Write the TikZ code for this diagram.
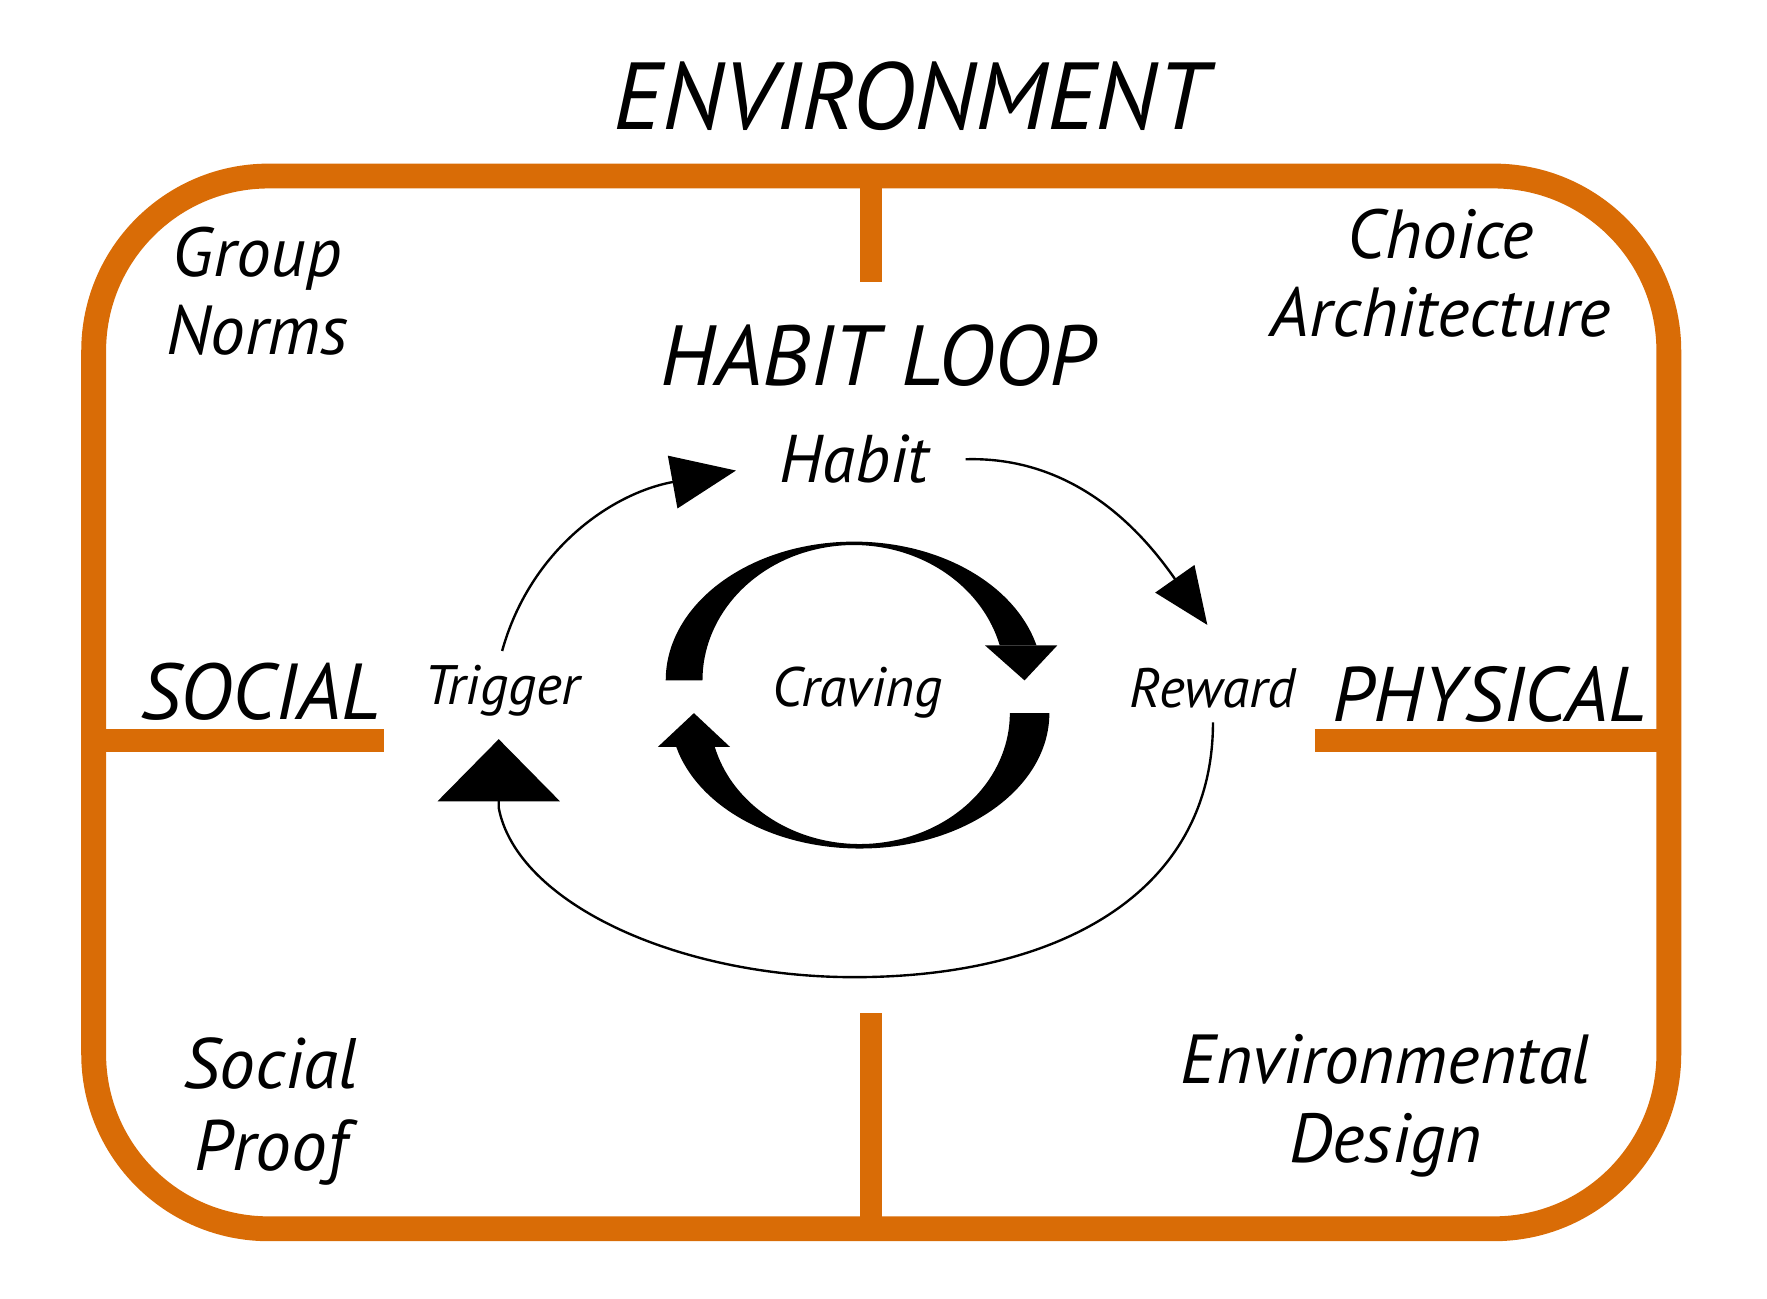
\documentclass[tikz,border=0pt]{standalone}
\usepackage{fontspec}
\setmainfont{PT Sans}
\usepackage{xcolor}
\usetikzlibrary{arrows.meta}
\definecolor{envorange}{RGB}{217,108,6}

\begin{document}
\begin{tikzpicture}[x=0.01cm, y=-0.01cm,
    frame/.style={draw=envorange, line width=0.22cm},
    divider/.style={draw=envorange, line width=0.2cm},
    heading/.style={font=\itshape\fontsize{24}{26}\selectfont},
    sidelabel/.style={font=\itshape\fontsize{20}{24}\selectfont},
    cornerlabel/.style={font=\itshape\fontsize{17.5}{19.5}\selectfont, align=center},
    looplabel/.style={font=\itshape\fontsize{14}{16}\selectfont},
    link/.style={draw, line width=0.6pt}]
    \useasboundingbox (0,0) rectangle (1566,1151);

    % frame of the environment
    \draw[frame, rounded corners=1.55cm] (83,156) rectangle (1479,1089);
    \draw[divider] (772,156) -- (772,250);
    \draw[divider] (772,898) -- (772,1089);
    \draw[divider] (83,656) -- (340,656);
    \draw[divider] (1165,656) -- (1479,656);

    \node[heading] (env) at (807,85) {ENVIRONMENT};
    \node[heading, font=\itshape\fontsize{21.5}{24}\selectfont] (loop) at (778,315) {HABIT LOOP};
    \node[cornerlabel] (norms) at (228,258) {Group\\Norms};
    \node[cornerlabel] (choice) at (1277,242) {Choice\\Architecture};
    \node[cornerlabel, font=\itshape\fontsize{18}{20.5}\selectfont] (proof) at (240,985) {Social\\Proof};
    \node[cornerlabel, font=\itshape\fontsize{17.5}{20}\selectfont] (design) at (1228,980) {Environmental\\Design};
    \node[sidelabel] (social) at (231,613) {SOCIAL};
    \node[sidelabel, font=\itshape\fontsize{19.5}{24}\selectfont] (physical) at (1320,615) {PHYSICAL};

    \node[looplabel, font=\itshape\fontsize{17}{20}\selectfont] (habit) at (757,407) {Habit};
    \node[looplabel] (trigger) at (445,612) {Trigger};
    \node[looplabel] (craving) at (760,614) {Craving};
    \node[looplabel] (reward) at (1075,610) {Reward};

    % outer loop
    \draw[link, -{Triangle[length=0.57cm, width=0.47cm]}] (trigger.north) .. controls +(25,-90) and +(-110,20) .. ([xshift=-0.26cm, yshift=-0.1cm]habit.west);
    \draw[link, -{Triangle[length=0.5cm, width=0.42cm]}] ([xshift=0.2cm]habit.east) .. controls +(105,-3) and +(-50,-71) .. ([xshift=-0.05cm, yshift=0.26cm]reward.north);
    \draw[link, -{Triangle[length=0.55cm, width=1.08cm]}] (reward.south) .. controls +(0,150) and (940,866) .. (757,866) .. controls (600,866) and (458,800) .. (442,716) -- ([xshift=-0.03cm, yshift=-0.08cm]trigger.south);

    % inner cycle round the craving
    \fill (590,603) arc[start angle=180, end angle=345.4, x radius=167, y radius=123] -- (886,572) arc[start angle=345, end angle=180, x radius=134, y radius=120] -- cycle;
    \fill (873,572) -- (937,572) -- (908,603) -- cycle;
    \fill (930,632) arc[start angle=0, end angle=165.5, x radius=168, y radius=120] -- (633.5,662) arc[start angle=165, end angle=0, x radius=133, y radius=116] -- cycle;
    \fill (583,662) -- (647,662) -- (615,632) -- cycle;
\end{tikzpicture}
\end{document}
